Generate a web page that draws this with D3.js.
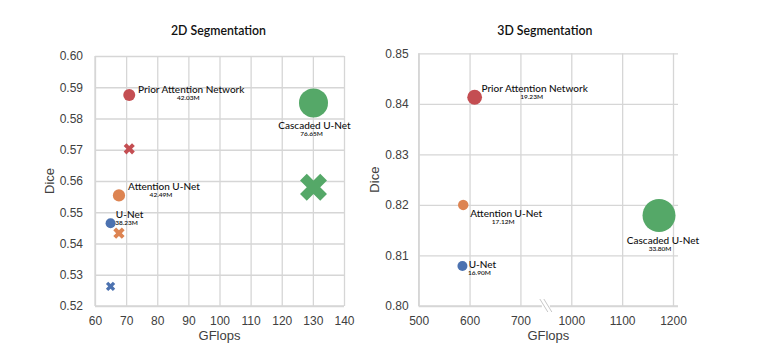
<!DOCTYPE html>
<html>
<head>
<meta charset="utf-8">
<script src="https://cdn.jsdelivr.net/npm/d3@7"></script>
<style>
  body { margin: 0; background: #fff; }
  .grid line, .grid path { stroke: #d6d6d6; stroke-width: 1.3; }
  .tick text { font-family: "Liberation Sans", Arial, sans-serif; font-size: 12px; fill: #404040; }
  .axis-label { font-family: "Liberation Sans", Arial, sans-serif; font-size: 13px; fill: #404040; }
  .title { font-family: Lato, sans-serif; font-size: 12.3px; font-weight: 600; fill: #111; }
  .name { font-family: Lato, sans-serif; font-size: 10px; font-weight: 500; fill: #111; }
  .params { font-family: Lato, sans-serif; font-size: 6.5px; font-weight: 600; fill: #111; }
</style>
</head>
<body>
<div id="chart"></div>
<script>
// models and colours
const models = ["U-Net", "Attention U-Net", "Prior Attention Network", "Cascaded U-Net"];
const colors = ["#4c72b0", "#dd8452", "#c44e52", "#55a868"];

// 2D segmentation
const gflops2d = [65.0, 67.7, 71.0, 130.2];
const dice2d = [0.5465, 0.5554, 0.5875, 0.5850];
const diceCross2d = [0.5263, 0.5433, 0.5703, 0.5580];
const params2d = [38.23, 42.49, 42.03, 76.65];
const xTicks2d = [60, 70, 80, 90, 100, 110, 120, 130, 140];
const yTicks2d = [0.52, 0.53, 0.54, 0.55, 0.56, 0.57, 0.58, 0.59, 0.60];

// 3D segmentation
const gflops3d = [586, 587.5, 610, 1172.5];
const dice3d = [0.8079, 0.8200, 0.8413, 0.8179];
const params3d = [16.90, 17.12, 19.23, 33.80];
const xTicks3d = [500, 600, 700, 1000, 1100, 1200];
const yTicks3d = [0.80, 0.81, 0.82, 0.83, 0.84, 0.85];

const svg = d3.select("#chart").append("svg")
  .attr("width", 757)
  .attr("height", 354);

// label offsets (centre of name text relative to the bubble)
const labelOffsets2d = [[19, -5], [45, -5], [62, -2], [1, 26]];
const labelOffsets3d = [[20, 2], [43, 12], [60, -5], [4, 28]];

function drawPanel(opts) {
  const { left, top, width, height, xScale, yScale, xTicks, yTicks, title } = opts;
  const g = svg.append("g").attr("transform", `translate(${left},${top})`);

  // gridlines + axes
  g.append("g")
    .attr("class", "grid")
    .call(d3.axisLeft(yScale)
      .tickValues(yTicks)
      .tickSize(-opts.gridWidth)
      .tickPadding(opts.yPad)
      .tickFormat(d3.format(".2f")));

  g.append("g")
    .attr("class", "grid")
    .attr("transform", `translate(0,${height})`)
    .call(d3.axisBottom(xScale)
      .tickValues(xTicks)
      .tickSize(-height)
      .tickPadding(10)
      .tickFormat(d3.format("d")));

  g.selectAll(".grid .domain").remove();
  // axis lines
  g.append("line")
    .attr("x1", 0).attr("x2", 0).attr("y1", 0).attr("y2", height)
    .attr("stroke", "#d6d6d6").attr("stroke-width", 1.3);
  g.append("line")
    .attr("x1", 0).attr("x2", opts.gridWidth).attr("y1", height).attr("y2", height)
    .attr("stroke", "#d6d6d6").attr("stroke-width", 1.3);

  // title and axis labels
  g.append("text")
    .attr("class", "title")
    .attr("x", width / 2 - 1)
    .attr("y", opts.titleY)
    .attr("text-anchor", "middle")
    .text(title);

  g.append("text")
    .attr("class", "axis-label")
    .attr("x", opts.gridWidth / 2)
    .attr("y", height + 34)
    .attr("text-anchor", "middle")
    .text("GFlops");

  g.append("text")
    .attr("class", "axis-label")
    .attr("transform", "rotate(-90)")
    .attr("x", -height / 2)
    .attr("y", opts.diceX)
    .attr("text-anchor", "middle")
    .text("Dice");

  return g;
}

function drawBubbles(g, xs, ys, params, xScale, yScale, rScale, offsets) {
  const data = models.map((m, i) => ({ name: m, x: xs[i], y: ys[i], p: params[i], color: colors[i], off: offsets[i] }));

  g.selectAll(".bubble")
    .data(data)
    .join("circle")
    .attr("class", "bubble")
    .attr("cx", d => xScale(d.x))
    .attr("cy", d => yScale(d.y))
    .attr("r", d => rScale(d.p))
    .attr("fill", d => d.color);

  const labels = g.selectAll(".lbl")
    .data(data)
    .join("g")
    .attr("class", "lbl")
    .attr("transform", d => `translate(${xScale(d.x) + d.off[0]},${yScale(d.y) + d.off[1]})`);

  labels.append("text")
    .attr("class", "name")
    .attr("text-anchor", "middle")
    .text(d => d.name);

  labels.append("text")
    .attr("class", "params")
    .attr("x", -3)
    .attr("y", 7)
    .attr("text-anchor", "middle")
    .text(d => d.p.toFixed(2) + "M");
}

// ---- 2D panel ----
const w2 = 249, h2 = 250;
const x2 = d3.scaleLinear().domain([60, 140]).range([0, w2]);
const y2 = d3.scaleLinear().domain([0.52, 0.60]).range([h2, 0]);
const r2 = d3.scaleLinear().domain([38.23, 42.03, 76.65]).range([5, 6, 14.5]);

const g2 = drawPanel({
  left: 95, top: 56, width: w2, height: h2, gridWidth: w2,
  xScale: x2, yScale: y2, xTicks: xTicks2d, yTicks: yTicks2d,
  title: "2D Segmentation", titleY: -21, yPad: 12, diceX: -41
});

// cross markers
const crossData = models.map((m, i) => ({ x: gflops2d[i], y: diceCross2d[i], p: params2d[i], color: colors[i] }));
g2.selectAll(".cross")
  .data(crossData)
  .join("path")
  .attr("class", "cross")
  .attr("transform", d => `translate(${x2(d.x)},${y2(d.y)}) rotate(45)`)
  .attr("d", d => {
    const wdt = 2 * r2(d.p) * 0.93;
    const rr = wdt / 5.66;
    return d3.symbol(d3.symbolCross, 20 * rr * rr)();
  })
  .attr("fill", d => d.color);

drawBubbles(g2, gflops2d, dice2d, params2d, x2, y2, r2, labelOffsets2d);

// ---- 3D panel ----
const s3 = 50.86;
const h3 = 252.7;
const x3 = d3.scaleLinear().domain([500, 700, 1000, 1200]).range([0, 2 * s3, 3 * s3, 5 * s3]);
const y3 = d3.scaleLinear().domain([0.80, 0.85]).range([h3, 0]);
const r3 = d3.scaleLinear().domain([16.90, 19.23, 33.80]).range([5, 7.4, 16.5]);

const g3 = drawPanel({
  left: 418.7, top: 53.3, width: 5 * s3, height: h3, gridWidth: 5 * s3 + 5,
  xScale: x3, yScale: y3, xTicks: xTicks3d, yTicks: yTicks3d,
  title: "3D Segmentation", titleY: -18, yPad: 10, diceX: -40
});

// axis break marker between 700 and 1000
const bx = x3(850);
g3.append("rect")
  .attr("x", bx - 4).attr("y", h3 - 2)
  .attr("width", 8).attr("height", 4)
  .attr("fill", "#fff");
[-2, 2].forEach(dx => {
  g3.append("line")
    .attr("x1", bx + dx - 4).attr("y1", h3 - 7)
    .attr("x2", bx + dx + 4).attr("y2", h3 + 6)
    .attr("stroke", "#c8c8c8").attr("stroke-width", 1);
});

drawBubbles(g3, gflops3d, dice3d, params3d, x3, y3, r3, labelOffsets3d);
</script>
</body>
</html>
